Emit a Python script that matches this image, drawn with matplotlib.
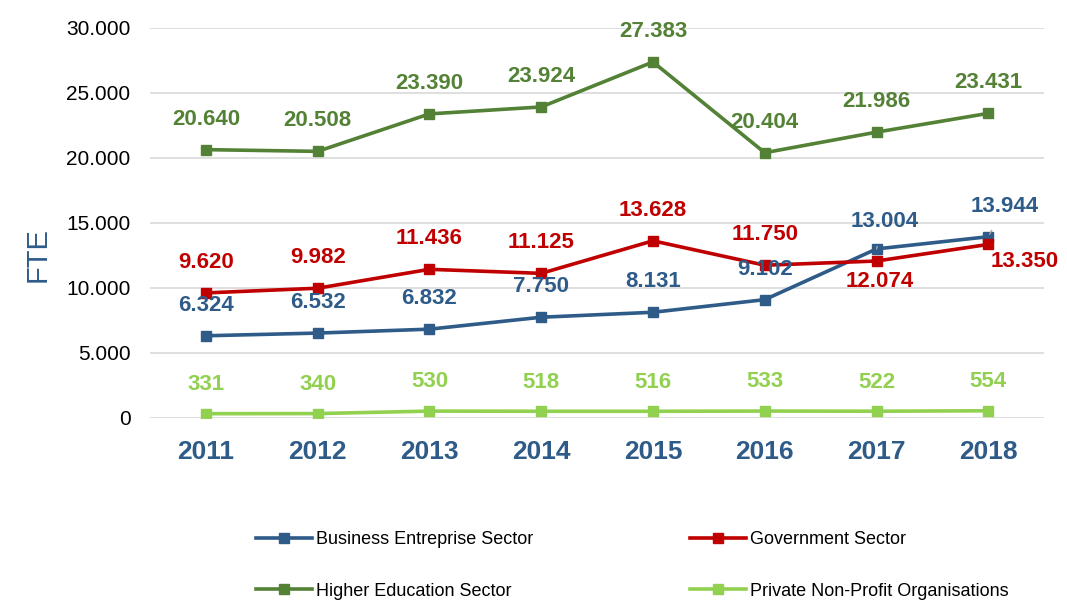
import matplotlib.pyplot as plt

plt.rcParams["font.family"] = ["Liberation Sans", "DejaVu Sans"]

years = ["2011", "2012", "2013", "2014", "2015", "2016", "2017", "2018"]
business = [6324, 6532, 6832, 7750, 8131, 9102, 13004, 13944]
government = [9620, 9982, 11436, 11125, 13628, 11750, 12074, 13350]
higher_edu = [20640, 20508, 23390, 23924, 27383, 20404, 21986, 23431]
private_np = [331, 340, 530, 518, 516, 533, 522, 554]

BLUE = "#2E5B88"
RED = "#C00000"
GREEN = "#538135"
LIGHT = "#92D050"


def fmt(v):
    # thousands with a dot, european style
    return f"{v:,}".replace(",", ".")


fig = plt.figure(figsize=(10.67, 6.01), dpi=100)
ax = fig.add_axes([0.1406, 0.3045, 0.838, 0.649])
x = list(range(len(years)))

lines = {}
series = [
    ("Business Entreprise Sector", business, BLUE),
    ("Government Sector", government, RED),
    ("Higher Education Sector", higher_edu, GREEN),
    ("Private Non-Profit Organisations", private_np, LIGHT),
]
for name, vals, col in series:
    lines[name], = ax.plot(x, vals, color=col, lw=2.6, marker="s", markersize=7,
                           label=name, zorder=3)

lab = dict(ha="center", va="center", fontsize=16, fontweight="bold",
           textcoords="offset points")
leader = dict(arrowstyle="-", color="#A6A6A6", lw=1, shrinkA=9, shrinkB=2)

# green / blue labels sit above the points
for i, v in enumerate(higher_edu):
    ax.annotate(fmt(v), (i, v), xytext=(0, 22), color=GREEN, **lab)
for i, v in enumerate(business):
    if i == 6:
        ax.annotate(fmt(v), (i, v), xytext=(6, 20), color=BLUE, arrowprops=leader, **lab)
    elif i == 7:
        ax.annotate(fmt(v), (i, v), xytext=(12, 22), color=BLUE, arrowprops=leader, **lab)
    else:
        ax.annotate(fmt(v), (i, v), xytext=(0, 22), color=BLUE, **lab)
for i, v in enumerate(government):
    if i == 6:
        ax.annotate(fmt(v), (i, v), xytext=(2, -15), color=RED, **lab)
    elif i == 7:
        ax.annotate(fmt(v), (i, v), xytext=(26, -12), color=RED, **lab)
    else:
        ax.annotate(fmt(v), (i, v), xytext=(0, 22), color=RED, **lab)
for i, v in enumerate(private_np):
    ax.annotate(fmt(v), (i, v), xytext=(0, 21), color=LIGHT, **lab)

ax.set_xlim(-0.5, len(years) - 0.5)
ax.set_ylim(0, 30000)
ax.set_yticks(range(0, 30001, 5000))
ax.set_yticklabels([fmt(t) for t in range(0, 30001, 5000)], fontsize=15)
ax.set_xticks(x)
ax.set_xticklabels(years, fontsize=19, fontweight="bold", color=BLUE)
ax.tick_params(length=0, pad=14)
ax.tick_params(axis="x", pad=16)
ax.grid(axis="y", color="#D9D9D9", lw=1.2)
ax.set_axisbelow(True)
for s in ax.spines.values():
    s.set_visible(False)
ax.set_ylabel("FTE", fontsize=21, color=BLUE, labelpad=22)
ax.yaxis.set_label_coords(-0.11, 0.418)

# legend fills column-wise, so reorder to get business/government on row 1
order = ["Business Entreprise Sector", "Higher Education Sector",
         "Government Sector", "Private Non-Profit Organisations"]
fig.legend([lines[n] for n in order], order, loc="lower left",
           bbox_to_anchor=(0.225, -0.025), ncol=2, frameon=False,
           fontsize=13, columnspacing=8.7, handlelength=3.1, handletextpad=0.2,
           labelspacing=1.9)

fig.savefig("out.png", dpi=100)
